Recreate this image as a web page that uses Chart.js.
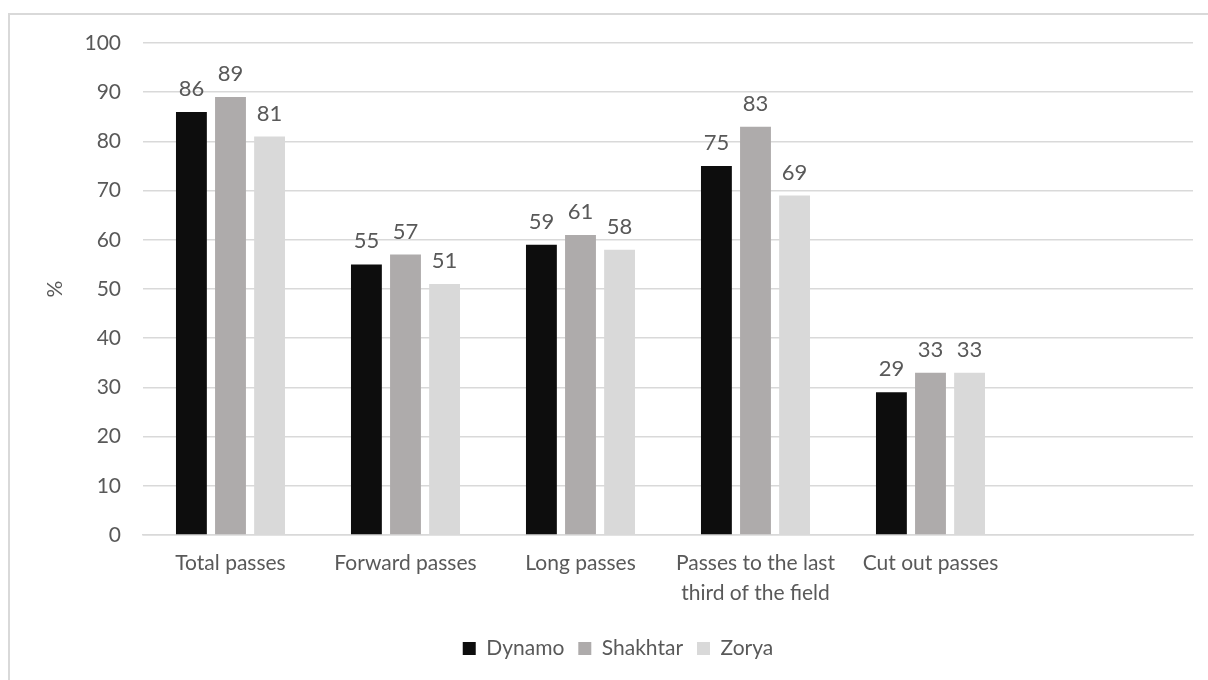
<!DOCTYPE html>
<html>
<head>
<meta charset="utf-8">
<script src="https://cdn.jsdelivr.net/npm/chart.js@4.4.0/dist/chart.umd.min.js"></script>
<style>
    html, body { margin: 0; padding: 0; background: #fff; overflow: hidden; }
    #frame {
        position: absolute; left: 8px; top: 13px; width: 1300px; height: 800px;
        border: 2px solid #d9d9d9; box-sizing: border-box;
    }
    #wrap { position: absolute; left: 0; top: 0; width: 1208px; height: 680px; }
</style>
</head>
<body>
<div id="frame"></div>
<div id="wrap"><canvas id="passChart" width="1208" height="680"></canvas></div>
<script>
// Chart data
const categories = ['Total passes', 'Forward passes', 'Long passes', ['Passes to the last', 'third of the field'], 'Cut out passes', ''];
const dynamo = [86, 55, 59, 75, 29, null];
const shakhtar = [89, 57, 61, 83, 33, null];
const zorya = [81, 51, 58, 69, 33, null];
const yTicks = [0, 10, 20, 30, 40, 50, 60, 70, 80, 90, 100];

const textColor = '#595959';
const fontFamily = 'Lato, "Open Sans", sans-serif';

const valueLabelPlugin = {
    id: 'valueLabels',
    afterDatasetsDraw: (chart) => {
        const ctx = chart.ctx;
        ctx.save();
        ctx.font = `22px ${fontFamily}`;
        ctx.fillStyle = textColor;
        ctx.textAlign = 'center';
        ctx.textBaseline = 'bottom';
        chart.data.datasets.forEach((ds, i) => {
            chart.getDatasetMeta(i).data.forEach((bar, j) => {
                if (ds.data[j] == null) return;
                ctx.fillText(ds.data[j], bar.x, bar.y - 12);
            });
        });
        ctx.restore();
    }
};

const ctx = document.getElementById('passChart').getContext('2d');
new Chart(ctx, {
    type: 'bar',
    data: {
        labels: categories,
        datasets: [
            { label: 'Dynamo', data: dynamo, backgroundColor: '#0d0d0d' },
            { label: 'Shakhtar', data: shakhtar, backgroundColor: '#aeabab' },
            { label: 'Zorya', data: zorya, backgroundColor: '#d9d9d9' }
        ]
    },
    options: {
        responsive: false,
        animation: false,
        categoryPercentage: 0.67,
        barPercentage: 0.79,
        layout: { padding: { top: 43, right: 15, left: 43, bottom: 11 } },
        plugins: {
            legend: {
                position: 'bottom',
                labels: {
                    color: textColor,
                    font: { family: fontFamily, size: 21 },
                    boxWidth: 13,
                    boxHeight: 13,
                    padding: 14
                }
            },
            tooltip: { enabled: false }
        },
        scales: {
            x: {
                grid: { display: false },
                border: { color: '#d9d9d9', width: 1.5 },
                ticks: {
                    color: textColor,
                    font: { family: fontFamily, size: 21, lineHeight: 1.4 },
                    padding: 6,
                    maxRotation: 0,
                    autoSkip: false
                },
                afterFit: (scale) => { scale.height = 89; }
            },
            y: {
                min: 0,
                max: 100,
                afterBuildTicks: (scale) => { scale.ticks = yTicks.map(v => ({ value: v })); },
                grid: { color: '#d9d9d9', lineWidth: 1.5, drawTicks: false },
                border: { display: false },
                ticks: {
                    color: textColor,
                    font: { family: fontFamily, size: 21 },
                    padding: 22
                },
                title: {
                    display: true,
                    text: '%',
                    color: textColor,
                    font: { family: fontFamily, size: 21 },
                    padding: 0
                },
                afterFit: (scale) => { scale.width = 100; }
            }
        }
    },
    plugins: [valueLabelPlugin]
});
</script>
</body>
</html>
